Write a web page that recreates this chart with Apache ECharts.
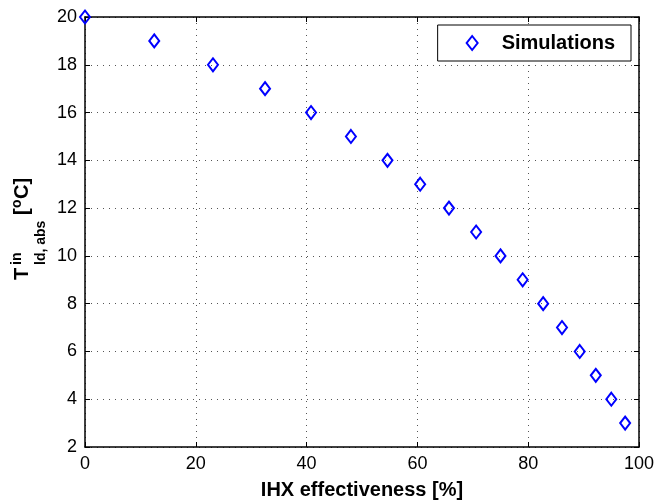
<!DOCTYPE html>
<html>
<head>
<meta charset="utf-8">
<script src="https://cdn.jsdelivr.net/npm/echarts@6/dist/echarts.min.js"></script>
<style>
    html, body { margin: 0; padding: 0; background: #fff; }
    #chart { width: 654px; height: 501px; }
</style>
</head>
<body>
<div id="chart"></div>
<script>
    // IHX effectiveness [%] vs. inlet temperature
    const effectiveness = [0, 12.5, 23.1, 32.5, 40.8, 48.0, 54.6, 60.5, 65.7, 70.6, 75.0, 79.0, 82.7, 86.1, 89.3, 92.2, 95.0, 97.5];
    const tempIn = [20, 19, 18, 17, 16, 15, 14, 13, 12, 11, 10, 9, 8, 7, 6, 5, 4, 3];
    const seriesName = 'Simulations';
    const xTitle = 'IHX effectiveness [%]';

    const font = '"Liberation Sans", Arial, Helvetica, sans-serif';
    const blue = '#0000ff';

    const points = effectiveness.map((v, i) => [v, tempIn[i]]);

    // shared axis look (matlab style box, ticks inside)
    const axisBase = {
        axisLine: { show: true, onZero: false, lineStyle: { color: '#000', width: 1.5 } },
        axisTick: { show: true, inside: true, length: 5, lineStyle: { color: '#000', width: 1 } }
    };
    const gridDots = { show: true, lineStyle: { color: '#555', type: [1, 5], width: 1 } };

    const chart = echarts.init(document.getElementById('chart'));
    chart.setOption({
        animation: false,
        backgroundColor: '#fff',
        textStyle: { fontFamily: font },
        grid: { left: 85, right: 15, top: 17, bottom: 54, outerBoundsMode: 'none' },
        legend: {
            data: [seriesName],
            right: 23,
            top: 25,
            icon: 'diamond',
            itemWidth: 11,
            itemHeight: 14,
            padding: [8, 16, 8, 28],
            backgroundColor: '#fff',
            borderColor: '#000',
            borderWidth: 1,
            borderRadius: 0,
            itemStyle: { color: '#fff', borderColor: blue, borderWidth: 2 },
            textStyle: { fontFamily: font, fontSize: 20, fontWeight: 'bold', color: '#000', padding: [0, 0, 0, 19] }
        },
        xAxis: [
            Object.assign({}, axisBase, {
                type: 'value',
                min: 0,
                max: 100,
                interval: 20,
                name: xTitle,
                nameLocation: 'middle',
                nameGap: 33,
                nameTextStyle: { fontFamily: font, fontSize: 20, fontWeight: 'bold', color: '#000' },
                axisLabel: { fontFamily: font, fontSize: 18, color: '#000', margin: 8 },
                splitLine: gridDots
            }),
            Object.assign({}, axisBase, {
                type: 'value',
                position: 'top',
                min: 0,
                max: 100,
                interval: 20,
                axisLabel: { show: false },
                splitLine: { show: false }
            })
        ],
        yAxis: [
            Object.assign({}, axisBase, {
                type: 'value',
                min: 2,
                max: 20,
                interval: 2,
                axisLabel: { fontFamily: font, fontSize: 18, color: '#000', margin: 8 },
                splitLine: gridDots
            }),
            Object.assign({}, axisBase, {
                type: 'value',
                position: 'right',
                min: 2,
                max: 20,
                interval: 2,
                axisLabel: { show: false },
                splitLine: { show: false }
            })
        ],
        series: [{
            name: seriesName,
            type: 'scatter',
            clip: false,
            z: 5,
            symbol: 'diamond',
            symbolSize: [10, 13],
            itemStyle: { color: 'rgba(255,255,255,0)', borderColor: blue, borderWidth: 2, opacity: 1 },
            data: points
        }],
        // y title with super/subscripts, rotated
        graphic: [{
            type: 'group',
            x: 0,
            y: 281,
            rotation: Math.PI / 2,
            children: [
                { type: 'text', x: 1, y: 22, style: { text: 'T', font: 'bold 20px ' + font, fill: '#000', verticalAlign: 'middle' } },
                { type: 'text', x: 16, y: 17, style: { text: 'in', font: 'bold 14px ' + font, fill: '#000', verticalAlign: 'middle' } },
                { type: 'text', x: 16, y: 41, style: { text: 'ld, abs', font: 'bold 14px ' + font, fill: '#000', verticalAlign: 'middle' } },
                { type: 'text', x: 66, y: 22, style: { text: '[', font: 'bold 20px ' + font, fill: '#000', verticalAlign: 'middle' } },
                { type: 'text', x: 73, y: 17, style: { text: 'o', font: 'bold 14px ' + font, fill: '#000', verticalAlign: 'middle' } },
                { type: 'text', x: 82, y: 22, style: { text: 'C]', font: 'bold 20px ' + font, fill: '#000', verticalAlign: 'middle' } }
            ]
        }]
    });
</script>
</body>
</html>
